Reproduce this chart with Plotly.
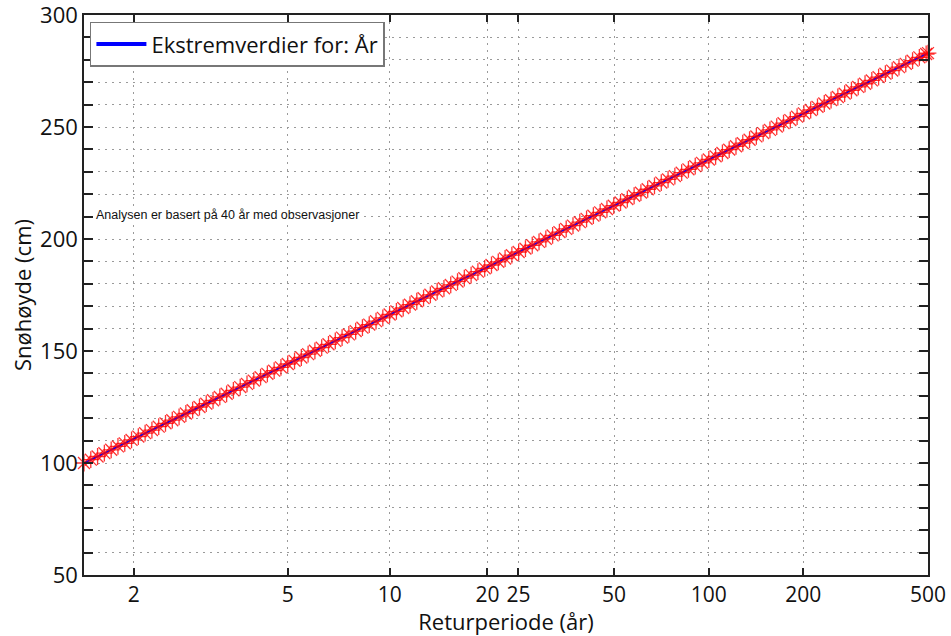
import math
import plotly.graph_objects as go

# Gumbel reduced variate (x positions of the points) and snow depth values
gumbel_u = [0.00, 0.05, 0.10, 0.15, 0.20, 0.25, 0.30, 0.35, 0.40, 0.45,
            0.50, 0.55, 0.60, 0.65, 0.70, 0.75, 0.80, 0.85, 0.90, 0.95,
            1.00, 1.05, 1.10, 1.15, 1.20, 1.25, 1.30, 1.35, 1.40, 1.45,
            1.50, 1.55, 1.60, 1.65, 1.70, 1.75, 1.80, 1.85, 1.90, 1.95,
            2.00, 2.05, 2.10, 2.15, 2.20, 2.25, 2.30, 2.35, 2.40, 2.45,
            2.50, 2.55, 2.60, 2.65, 2.70, 2.75, 2.80, 2.85, 2.90, 2.95,
            3.00, 3.05, 3.10, 3.15, 3.20, 3.25, 3.30, 3.35, 3.40, 3.45,
            3.50, 3.55, 3.60, 3.65, 3.70, 3.75, 3.80, 3.85, 3.90, 3.95,
            4.00, 4.05, 4.10, 4.15, 4.20, 4.25, 4.30, 4.35, 4.40, 4.45,
            4.50, 4.55, 4.60, 4.65, 4.70, 4.75, 4.80, 4.85, 4.90, 4.95,
            5.00, 5.05, 5.10, 5.15, 5.20, 5.25, 5.30, 5.35, 5.40, 5.45,
            5.50, 5.55, 5.60, 5.65, 5.70, 5.75, 5.80, 5.85, 5.90, 5.95,
            6.00, 6.05, 6.10, 6.15, 6.20, 6.2136]
snow_cm = [100.0, 101.5, 102.9, 104.4, 105.9, 107.4, 108.8, 110.3, 111.8, 113.3,
           114.7, 116.2, 117.7, 119.1, 120.6, 122.1, 123.6, 125.0, 126.5, 128.0,
           129.5, 130.9, 132.4, 133.9, 135.3, 136.8, 138.3, 139.8, 141.2, 142.7,
           144.2, 145.6, 147.1, 148.6, 150.1, 151.5, 153.0, 154.5, 156.0, 157.4,
           158.9, 160.4, 161.8, 163.3, 164.8, 166.3, 167.7, 169.2, 170.7, 172.2,
           173.6, 175.1, 176.6, 178.0, 179.5, 181.0, 182.5, 183.9, 185.4, 186.9,
           188.4, 189.8, 191.3, 192.8, 194.2, 195.7, 197.2, 198.7, 200.1, 201.6,
           203.1, 204.5, 206.0, 207.5, 209.0, 210.4, 211.9, 213.4, 214.9, 216.3,
           217.8, 219.3, 220.7, 222.2, 223.7, 225.2, 226.6, 228.1, 229.6, 231.1,
           232.5, 234.0, 235.5, 236.9, 238.4, 239.9, 241.4, 242.8, 244.3, 245.8,
           247.3, 248.7, 250.2, 251.7, 253.1, 254.6, 256.1, 257.6, 259.0, 260.5,
           262.0, 263.4, 264.9, 266.4, 267.9, 269.3, 270.8, 272.3, 273.8, 275.2,
           276.7, 278.2, 279.6, 281.1, 282.6, 283.0]

return_periods = [2, 5, 10, 20, 25, 50, 100, 200, 500]
tick_labels = ["2", "5", "10", "20", "25", "50", "100", "200", "500"]
legend_name = "Ekstremverdier for: År"
note_text = "Analysen er basert på 40 år med observasjoner"


def gumbel(T):
    return -math.log(-math.log(1.0 - 1.0 / T))


tickvals = [gumbel(T) for T in return_periods]
font_main = "Open Sans, sans-serif"
grid_col = "#9a9a9a"
grid_dash = "2px,5px"

fig = go.Figure()
# legend entry (thick blue line sample)
fig.add_trace(go.Scatter(
    x=[None], y=[None], mode="lines", name=legend_name,
    line=dict(color="#0000ff", width=4),
))
fig.add_trace(go.Scatter(
    x=gumbel_u, y=snow_cm, mode="lines", showlegend=False, cliponaxis=False,
    line=dict(color="#0000ff", width=2),
))
fig.add_trace(go.Scatter(
    x=gumbel_u, y=snow_cm, mode="markers", showlegend=False, cliponaxis=False,
    marker=dict(symbol="asterisk-open", size=14, color="rgba(255,0,0,0.8)",
                line=dict(color="rgba(255,0,0,0.8)", width=1.3)),
))

axis_common = dict(
    showline=True, linecolor="#222", linewidth=1.5, mirror="ticks",
    ticks="inside", tickcolor="#222", tickwidth=1.5, zeroline=False,
    automargin=False, ticklabeloverflow="allow",
    gridcolor=grid_col, griddash=grid_dash, gridwidth=1,
)

fig.update_xaxes(
    **axis_common, range=[0, gumbel(500)], tickvals=tickvals, ticktext=tick_labels,
    ticklen=7, showgrid=True,
    tickfont=dict(family=font_main, size=21, color="#111"),
    title=dict(text="Returperiode (år)", font=dict(family=font_main, size=22, color="#111"),
               standoff=0),
)
fig.update_yaxes(
    **axis_common, range=[50, 300], tickvals=[50, 100, 150, 200, 250, 300],
    ticklen=9, showgrid=True,
    tickfont=dict(family=font_main, size=22, color="#111"),
    minor=dict(dtick=10, ticks="inside", ticklen=9, tickcolor="#222", tickwidth=1.5,
               showgrid=True, gridcolor=grid_col, griddash=grid_dash, gridwidth=1),
    title=dict(text="Snøhøyde (cm)", font=dict(family=font_main, size=22, color="#111"),
               standoff=2),
)

fig.add_annotation(
    x=0, y=210.7, xref="x", yref="y", xanchor="left", yanchor="middle",
    xshift=11, text=note_text, showarrow=False, bgcolor="white", borderpad=0,
    font=dict(family="Liberation Sans, Arial", size=12.5, color="#111"),
)

fig.update_layout(
    width=951, height=636,
    margin=dict(l=84, r=23, t=15, b=61),
    paper_bgcolor="white", plot_bgcolor="white",
    showlegend=True,
    legend=dict(x=0.007, y=0.988, xanchor="left", yanchor="top",
                bgcolor="white", bordercolor="#777", borderwidth=1.5,
                font=dict(family=font_main, size=22, color="#111"),
                itemwidth=50, tracegroupgap=0),
)

fig.write_html("out.html")
